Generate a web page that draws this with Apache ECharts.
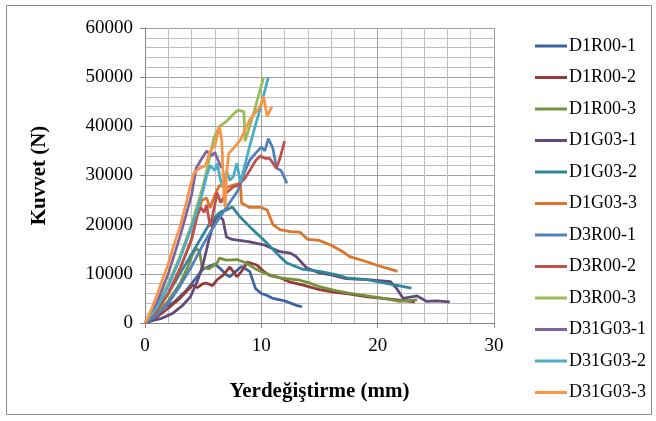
<!DOCTYPE html>
<html>
<head>
<meta charset="utf-8">
<script src="https://cdn.jsdelivr.net/npm/echarts@6/dist/echarts.min.js"></script>
<style>
  html, body { margin: 0; padding: 0; background: #fff; }
  #chart { width: 656px; height: 421px; }
</style>
</head>
<body>
<div id="chart"></div>
<script>
// deplasman (mm), kuvvet (N) ciftleri
var D1R00_1 = [[0,0],[0.5,500],[1,1500],[1.5,3000],[2.5,4200],[3.5,6500],[4.5,9500],[5,11000],[5.5,11500],[6,12000],[6.5,11000],[7,9800],[7.3,9400],[7.8,10500],[8.3,11500],[9,10500],[9.5,7000],[10,6000],[10.5,5600],[11,5000],[12,4500],[13,3600],[13.5,3300]];
var D1R00_2 = [[0,0],[1,1200],[2,3000],[3,5000],[3.6,6500],[4.1,7700],[4.5,7200],[5,8000],[5.3,8100],[5.8,7600],[6.2,8800],[6.7,9700],[7.3,11400],[7.9,9400],[8.3,10500],[8.8,12400],[9.6,11800],[10.2,10500],[10.7,9700],[11.6,9200],[12.5,8300],[13.6,7700],[15,6800],[16.2,6300],[17.5,5900],[19.1,5300],[20.5,5000],[22,4600],[23.2,4300]];
var D1R00_3 = [[0,0],[1,2000],[2,4500],[3,8000],[3.7,11500],[4.1,14000],[4.4,15200],[4.7,14500],[4.9,11400],[5.5,11000],[6.2,12200],[6.4,13200],[7,12800],[7.9,12900],[8.7,12200],[9.5,11000],[10.2,10200],[11.6,9200],[13.3,8700],[14.2,8100],[15,7400],[16.2,6700],[17.5,6100],[19.1,5500],[20.5,5000],[21.9,4400],[23.4,4700]];
var D1G03_1 = [[0,0],[0.7,500],[1.5,1000],[2.4,2000],[3.2,3500],[3.9,5300],[4.5,8500],[5,12000],[5.5,17000],[6,21000],[6.3,22000],[6.7,21000],[7,17500],[7.5,17000],[9,16500],[10.2,15900],[11.6,14500],[12.5,14200],[13,13500],[13.5,12200],[13.9,11200],[15,10200],[16,9800],[17.3,9000],[19.1,8800],[21.1,8400],[21.6,7100],[22.2,5000],[23.4,5500],[24.2,4400],[25,4500],[26.2,4300]];
var D1G03_2 = [[0,0],[1,2500],[2,6000],[3,10000],[4,14000],[5,18000],[5.5,20000],[6,21500],[6.5,22600],[7,23000],[7.5,23600],[8.2,21500],[9,19600],[10.5,16200],[11.6,13500],[12.2,12200],[13.6,10900],[15,10500],[16.5,9800],[17.3,9200],[19.1,8800],[21.3,7800],[22.9,7100]];
var D1G03_3 = [[0,0],[1,2500],[2,6000],[3,11000],[4,17000],[4.5,22000],[4.9,25000],[5.3,25400],[5.6,23400],[6,26000],[6.4,28000],[7,27500],[7.5,28000],[8.2,28400],[8.3,24400],[9,23500],[10,23500],[10.5,23000],[11,20000],[11.6,19000],[12.5,18600],[13.3,18500],[14,17000],[15,16800],[16,15800],[17,14500],[17.6,13500],[19,12500],[20,11700],[21,11000],[21.7,10500]];
var D3R00_1 = [[0,0],[1,1500],[2,4000],[3,7500],[4,11500],[5,16000],[6,20000],[7,23500],[8,27000],[8.5,30400],[9,33100],[9.5,34500],[10,35800],[10.3,35000],[10.6,37500],[11,35500],[11.3,31500],[11.7,31000],[12,29500],[12.2,28400]];
var D3R00_2 = [[0,0],[1,2500],[2,6000],[3,11000],[4,17000],[4.5,22000],[4.8,23500],[5.1,22500],[5.3,24000],[5.6,19600],[6,24000],[6.2,26500],[6.5,24500],[7,26500],[7.6,27700],[8,28000],[8.6,29500],[9,31000],[9.5,33000],[9.9,34000],[10.3,33500],[10.7,33500],[11.3,31500],[11.6,33500],[12,37000]];
var D3R00_3 = [[0,0],[1,3500],[2,8000],[3,13500],[4,20000],[5,28000],[5.5,33000],[5.9,37500],[6.4,40000],[7,41000],[7.6,42500],[8,43300],[8.5,43000],[8.6,37000],[9,40000],[9.5,44000],[10.2,50000]];
var D31G03_1 = [[0,0],[1,4000],[2,10000],[3,17500],[4,26000],[4.4,31500],[4.9,33500],[5.3,35000],[5.7,34000],[6,34700],[6.3,33000],[6.6,31500]];
var D31G03_2 = [[0,0],[1,3000],[2,7500],[3,13000],[4,19500],[4.5,23000],[5,27000],[5.3,30000],[5.6,32000],[6,31000],[6.2,32500],[6.5,29000],[6.7,27700],[7,31000],[7.3,29000],[7.6,29800],[7.9,32500],[8.2,28500],[9,36000],[10,44500],[10.6,50000]];
var D31G03_3 = [[0,0],[0.5,2500],[1,5500],[1.5,8800],[2,12000],[2.5,16000],[3,19500],[3.5,24000],[3.9,28000],[4.2,30500],[4.7,31500],[5.2,32000],[5.6,35000],[6,36000],[6.4,40000],[6.6,37000],[6.8,25000],[6.9,23500],[7,30000],[7.2,34500],[7.6,35500],[8.2,37200],[9,41300],[9.9,44000],[10.2,46000],[10.5,42000],[10.9,44000]];

var seriesNames = ['D1R00-1','D1R00-2','D1R00-3','D1G03-1','D1G03-2','D1G03-3','D3R00-1','D3R00-2','D3R00-3','D31G03-1','D31G03-2','D31G03-3'];
var seriesData = [D1R00_1, D1R00_2, D1R00_3, D1G03_1, D1G03_2, D1G03_3, D3R00_1, D3R00_2, D3R00_3, D31G03_1, D31G03_2, D31G03_3];
var colors = ['#3b64a0','#963a38','#76923c','#5f4a7b','#31859c','#d9762c','#4f81bd','#c0504d','#9bbb59','#8064a2','#4bacc6','#f79646'];

var xTicks = [0, 10, 20, 30];
var yTicks = [0, 10000, 20000, 30000, 40000, 50000, 60000];

var chart = echarts.init(document.getElementById('chart'));

var series = [];
for (var i = 0; i < seriesNames.length; i++) {
  series.push({
    name: seriesNames[i],
    type: 'line',
    data: seriesData[i],
    showSymbol: false,
    symbol: 'none',
    smooth: false,
    lineStyle: { width: 2.75, color: colors[i] },
    itemStyle: { color: colors[i] }
  });
}

var option = {
  animation: false,
  color: colors,
  graphic: [{
    type: 'rect',
    shape: { x: 6.5, y: 5.5, width: 645, height: 409 },
    style: { fill: 'none', stroke: '#8c8c8c', lineWidth: 1 },
    silent: true
  }],
  grid: { left: 145, right: 162, top: 28, bottom: 98 },
  legend: {
    orient: 'vertical',
    left: 530,
    top: 32,
    itemWidth: 32,
    itemHeight: 3,
    itemGap: 13.5,
    icon: 'rect',
    textStyle: { fontFamily: 'Liberation Serif', fontSize: 18, color: '#000', padding: [0, 0, 0, -3] },
    data: seriesNames
  },
  xAxis: {
    type: 'value',
    min: xTicks[0],
    max: xTicks[xTicks.length - 1],
    interval: 10,
    name: 'Yerdeğiştirme (mm)',
    nameLocation: 'middle',
    nameGap: 58,
    nameTextStyle: { fontFamily: 'Liberation Serif', fontWeight: 'bold', fontSize: 21, color: '#000' },
    axisLine: { show: true, lineStyle: { color: '#868686', width: 1 } },
    axisTick: { show: true, length: 5, lineStyle: { color: '#868686' } },
    axisLabel: { fontFamily: 'Liberation Serif', fontSize: 19, color: '#000', margin: 14 },
    splitLine: { show: true, lineStyle: { color: '#a0a0a0', width: 1 } },
    minorTick: { show: false, splitNumber: 5 },
    minorSplitLine: { show: true, lineStyle: { color: '#bdbdbd', width: 1 } }
  },
  yAxis: {
    type: 'value',
    min: yTicks[0],
    max: yTicks[yTicks.length - 1],
    interval: 10000,
    name: 'Kuvvet (N)',
    nameLocation: 'middle',
    nameGap: 95,
    nameTextStyle: { fontFamily: 'Liberation Serif', fontWeight: 'bold', fontSize: 21, color: '#000' },
    axisLine: { show: true, lineStyle: { color: '#868686', width: 1 } },
    axisTick: { show: true, length: 5, lineStyle: { color: '#868686' } },
    axisLabel: {
      fontFamily: 'Liberation Serif', fontSize: 19, color: '#000', margin: 12,
      formatter: function (v) { return String(v); }
    },
    splitLine: { show: true, lineStyle: { color: '#a0a0a0', width: 1 } },
    minorTick: { show: false, splitNumber: 5 },
    minorSplitLine: { show: true, lineStyle: { color: '#bdbdbd', width: 1 } }
  },
  series: series
};

chart.setOption(option);
</script>
</body>
</html>
